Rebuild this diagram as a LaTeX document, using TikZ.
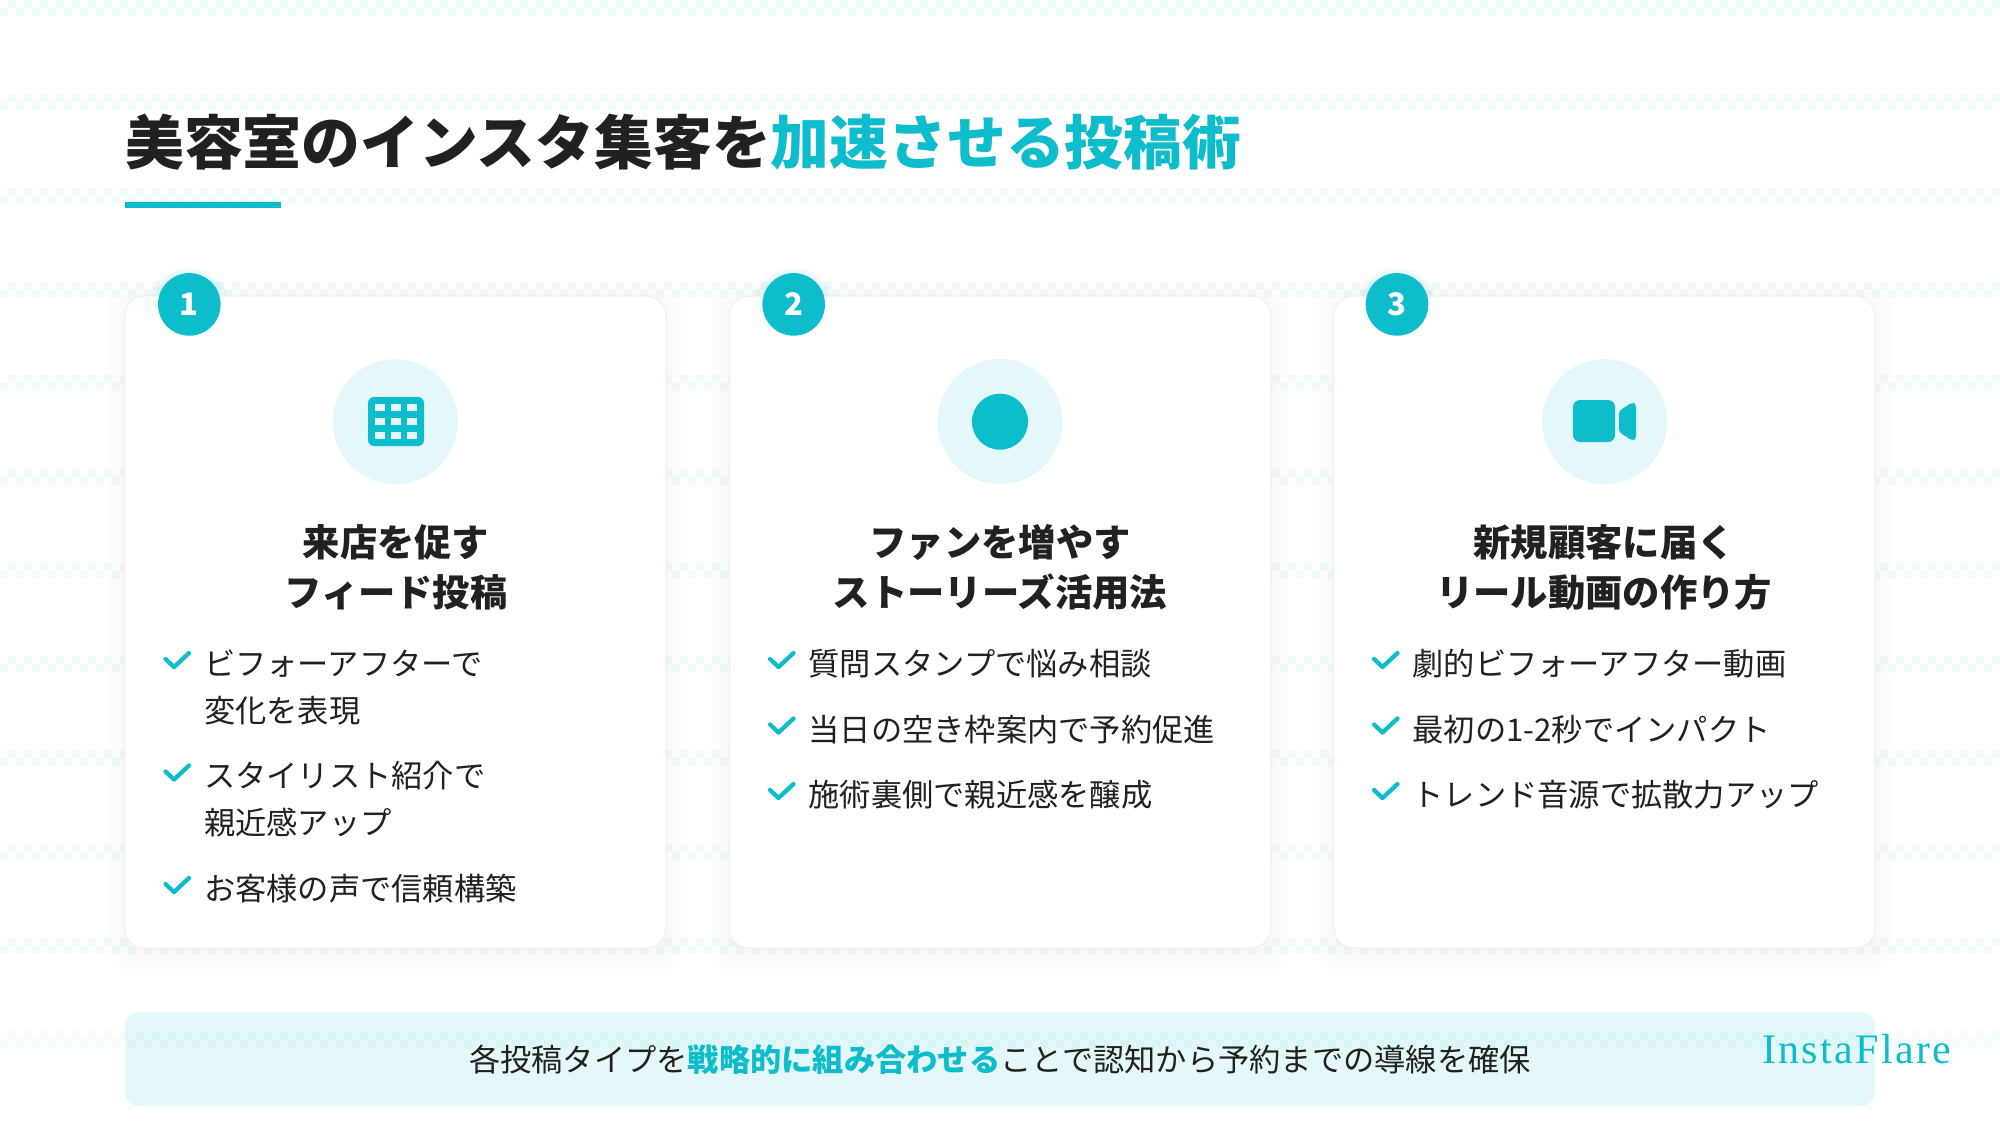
\documentclass[tikz,border=0pt]{standalone}
\usepackage{fontspec}
\setmainfont{Noto Sans CJK JP}
\newfontfamily\logofont[LetterSpace=5.5]{Liberation Serif}
\definecolor{brandteal}{HTML}{0DBDCB}
\definecolor{palecyan}{HTML}{E4F7FA}
\definecolor{inkdark}{HTML}{212121}
\definecolor{cellcyan}{HTML}{F0FBFC}
\definecolor{cardedge}{HTML}{EFEFEF}

\tikzset{
    patterncell/.style={fill=cellcyan},
    card/.style={draw=cardedge,line width=1pt,fill=white,rounded corners=20pt,minimum width=541pt,minimum height=652pt,inner sep=0},
    badge/.style={circle,fill=brandteal,text=white,minimum size=62.6pt,inner sep=0,font=\fontsize{31}{31}\selectfont\bfseries},
    iconback/.style={circle,fill=palecyan,minimum size=125pt,inner sep=0},
    cardtitle/.style={align=center,text=inkdark,inner sep=0,font=\fontsize{37.33}{50}\selectfont\bfseries},
    itemtext/.style={align=left,anchor=west,text=inkdark,inner sep=0,font=\fontsize{31.25}{47}\selectfont},
    tick/.style={draw=brandteal,line width=4.3pt,line cap=round,line join=round},
}
\newcommand{\itemtick}[2]{\draw[tick] (#1-38.5,#2-4) -- ++(8.5,8) -- ++(15,-14);}

\begin{document}
\begin{tikzpicture}[x=1pt,y=-1pt]
    \pgfmathsetmacro{\bandstep}{93.75}
    \pgfmathsetmacro{\cardtop}{296}
    \pgfmathsetmacro{\cardbottom}{948}
    \useasboundingbox (0,0) rectangle (2000,1125);
    \fill[white] (0,0) rectangle (2000,1125);
    % checker bands
    \foreach \band in {0,...,11}
        \fill[patterncell] \foreach \col in {0,...,124} {(16*\col+8,\bandstep*\band) rectangle +(8,8) (16*\col,\bandstep*\band+8) rectangle +(8,8)};

    \node[anchor=base west,inner sep=0,text=inkdark,font=\fontsize{58.8}{60}\selectfont\bfseries] (title) at (125,164.5) {美容室のインスタ集客を\textcolor{brandteal}{加速させる投稿術}};
    \fill[brandteal] (125,202) rectangle (281,208);

    % soft shadows
    \foreach \cx in {395.3,1000,1604.7}
        \foreach \grow in {3,6,...,21}
            \fill[black,opacity=0.004,rounded corners=22pt] (\cx-270-\grow,\cardtop+5-\grow) rectangle (\cx+270+\grow,\cardbottom+5+\grow);
    \foreach \cx in {189.3,793.7,1397}
        \foreach \grow in {2,4,...,10}
            \fill[brandteal,opacity=0.03] (\cx,308) circle (31+\grow);

    \node[card] (cardA) at (395.3,622) {};
    \node[card] (cardB) at (1000,622) {};
    \node[card] (cardC) at (1604.4,622) {};

    \node[badge] (badgeA) at (189.3,304.4) {1};
    \node[badge] (badgeB) at (793.7,304.4) {2};
    \node[badge] (badgeC) at (1397,304.4) {3};

    \node[iconback] (iconA) at (395.3,421.7) {};
    \node[iconback] (iconB) at (1000,421.7) {};
    \node[iconback] (iconC) at (1604.7,421.7) {};

    % grid icon
    \fill[brandteal,rounded corners=6pt] (368,397) rectangle (424,446);
    \foreach \gx in {375,391,407}
        \foreach \gy in {404,418,432}
            \fill[palecyan] (\gx,\gy) rectangle +(10,7);
    % dot icon
    \fill[brandteal] (iconB) circle (28);
    % camera icon
    \fill[brandteal,rounded corners=7pt] (1573,400) rectangle (1615,442);
    \fill[brandteal,rounded corners=3pt] (1619,411) -- (1632,402.5) -- (1636,404) -- (1636,439) -- (1632,440.5) -- (1619,432) -- cycle;

    \node[cardtitle] (headA) at (396,567) {来店を促す\\フィード投稿};
    \node[cardtitle] (headB) at (1000,567) {ファンを増やす\\ストーリーズ活用法};
    \node[cardtitle] (headC) at (1604,567) {新規顧客に届く\\リール動画の作り方};

    \node[itemtext] (itemAa) at (204,687) {ビフォーアフターで\\変化を表現};
    \node[itemtext] (itemAb) at (204,799) {スタイリスト紹介で\\親近感アップ};
    \node[itemtext] (itemAc) at (204,889) {お客様の声で信頼構築};
    \node[itemtext] (itemBa) at (808.5,664) {質問スタンプで悩み相談};
    \node[itemtext] (itemBb) at (808.5,730) {当日の空き枠案内で予約促進};
    \node[itemtext] (itemBc) at (808.5,795) {施術裏側で親近感を醸成};
    \node[itemtext] (itemCa) at (1412.5,664) {劇的ビフォーアフター動画};
    \node[itemtext] (itemCb) at (1412.5,730) {最初の1-2秒でインパクト};
    \node[itemtext] (itemCc) at (1412.5,795) {トレンド音源で拡散力アップ};

    \itemtick{204}{663}
    \itemtick{204}{775.5}
    \itemtick{204}{888}
    \itemtick{808.5}{663}
    \itemtick{808.5}{728.5}
    \itemtick{808.5}{794}
    \itemtick{1412.5}{663}
    \itemtick{1412.5}{728.5}
    \itemtick{1412.5}{794}

    \fill[brandteal,opacity=0.105,rounded corners=14pt] (125,1012) rectangle (1875,1106);
    \node[inner sep=0,text=inkdark,font=\fontsize{31.25}{32}\selectfont] (closing) at (1000,1060) {各投稿タイプを\textcolor{brandteal}{\bfseries 戦略的に組み合わせる}ことで認知から予約までの導線を確保};
    \node[anchor=base west,inner sep=0,text=brandteal,font=\logofont\fontsize{42}{42}\selectfont] (logo) at (1762,1063) {InstaFlare};
\end{tikzpicture}
\end{document}
